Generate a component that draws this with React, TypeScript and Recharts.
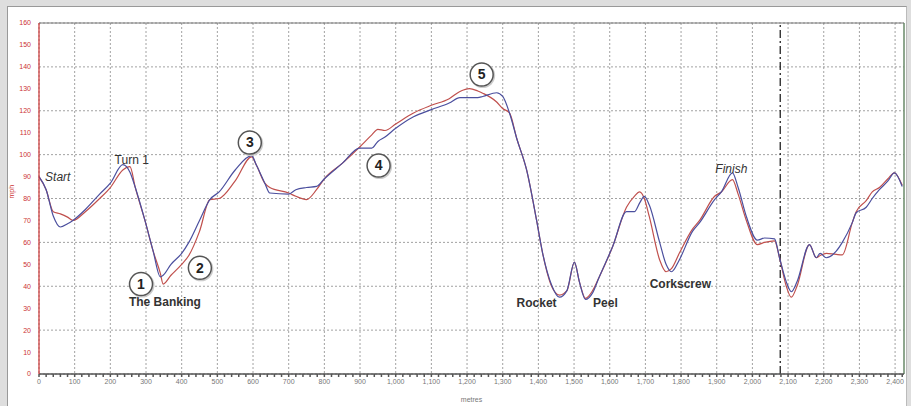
import React from 'react';
import {
  LineChart,
  Line,
  XAxis,
  YAxis,
  CartesianGrid,
  ReferenceLine,
  ReferenceDot,
} from 'recharts';

// distance along the track (metres)
const distance = [
  0, 20, 40, 60, 80, 95, 130, 170, 200, 235, 255, 270, 297, 320, 340, 348, 370, 400, 420, 450,
  479, 505, 550, 596, 610, 633, 647, 700, 720, 750, 778, 800, 850, 899, 933, 950, 970, 1000, 1050, 1100,
  1150, 1180, 1207, 1230, 1244, 1283, 1300, 1319, 1340, 1367, 1395, 1412, 1437, 1459, 1480, 1501, 1515, 1532, 1552, 1570,
  1608, 1647, 1669, 1684, 1697, 1711, 1740, 1758, 1773, 1795, 1832, 1852, 1894, 1913, 1944, 1960, 1983, 2014, 2034, 2062,
  2076, 2095, 2109, 2125, 2160, 2179, 2190, 2207, 2235, 2252, 2280, 2291, 2319, 2336, 2356, 2380, 2398, 2420,
];

// lap A (blue trace), mph
const lapA = [
  90, 84, 72, 67, 68.5, 70, 75, 82, 87, 95.4, 92, 85, 70, 56, 44.3, 45, 50, 55, 60, 70,
  79.5, 83, 93, 99.5, 95, 87, 82.5, 82, 84, 85, 85.5, 89, 96, 103, 103, 106, 108, 112, 117.3, 120.5,
  123.5, 126, 126, 126, 126.5, 128.2, 126.5, 119, 107, 93, 70, 55, 40.6, 35, 38, 51, 42, 34, 37, 44,
  58, 74, 74, 78, 81, 77, 60, 50, 46.6, 52, 65, 69, 79.5, 83, 91.7, 85, 71.8, 61, 62, 61.6,
  53, 42, 37.5, 42, 59, 53, 55, 53, 56, 60, 69, 73.5, 76, 80, 84, 88, 91.7, 85.5,
];

// lap B (red trace), mph
const lapB = [
  90, 84, 74, 73, 71.5, 70, 74, 80, 85, 93, 94.5, 85, 70, 56, 46, 41, 45, 50, 54, 65,
  79.5, 80, 88, 99, 95, 87, 85, 82.5, 81, 79.5, 84, 89, 96, 103.5, 109, 111.5, 111, 114, 119, 122.5,
  125.5, 128.8, 130.1, 129, 128, 124, 121, 119, 107, 93, 70, 55, 40, 36, 38, 51, 42, 34.5, 38, 44,
  58, 76, 81, 83, 80, 71.7, 52, 46.6, 48, 55, 66, 70, 81, 83, 88.6, 82, 70, 59, 60, 60.7,
  53, 40, 35, 40, 59, 53, 54, 55, 54.5, 54.3, 69, 74, 79, 83, 85, 89, 91.7, 86,
];

const xTicks = [0, 100, 200, 300, 400, 500, 600, 700, 800, 900, 1000, 1100, 1200, 1300, 1400, 1500, 1600, 1700, 1800, 1900, 2000, 2100, 2200, 2300, 2400];
const yTicks = [0, 10, 20, 30, 40, 50, 60, 70, 80, 90, 100, 110, 120, 130, 140, 150, 160];
// minor tick marks every 20 m along the distance axis
const xMinorTicks = Array.from({ length: 122 }, (_, i) => i * 20);

const markers = [
  { label: '1', x: 286, y: 41 },
  { label: '2', x: 451, y: 48.4 },
  { label: '3', x: 591, y: 105.5 },
  { label: '4', x: 952, y: 95 },
  { label: '5', x: 1241, y: 136.5 },
];

const names = [
  { text: 'Start', x: 17, y: 89.5, italic: true, anchor: 'start', bold: false },
  { text: 'Turn 1', x: 260, y: 97, italic: false, anchor: 'middle', bold: false },
  { text: 'The Banking', x: 353, y: 32.4, italic: false, anchor: 'middle', bold: true },
  { text: 'Rocket', x: 1395, y: 32, italic: false, anchor: 'middle', bold: true },
  { text: 'Peel', x: 1588, y: 32, italic: false, anchor: 'middle', bold: true },
  { text: 'Corkscrew', x: 1798, y: 40.6, italic: false, anchor: 'middle', bold: true },
  { text: 'Finish', x: 1941, y: 93, italic: true, anchor: 'middle', bold: false },
];

const data = distance.map((d, i) => ({ d, a: lapA[i], b: lapB[i] }));

const fmt = (v: number) => (v % 100 === 0 ? v.toLocaleString('en-US') : '');

export default function App() {
  return (
    <div style={{ position: 'absolute', left: 0, top: 0, width: 911, height: 406, background: '#dedede', fontFamily: '"Liberation Sans", Arial, sans-serif' }}>
      <div style={{ position: 'absolute', left: 7, top: 6, width: 898, height: 400, background: '#fff', borderLeft: '1px solid #999', borderTop: '1px solid #999', borderRight: '1px solid #bbb' }} />
      <div style={{ position: 'absolute', left: 0, top: 0 }}>
        <LineChart width={911} height={406} data={data} margin={{ top: 23, right: 7, left: 0, bottom: 0 }}>
          <CartesianGrid stroke="#8a8a8a" strokeDasharray="2 2" strokeWidth={0.8} verticalValues={xTicks} horizontalValues={yTicks} />
          <XAxis
            dataKey="d"
            type="number"
            domain={[0, 2425]}
            ticks={xMinorTicks}
            interval={0}
            tickFormatter={fmt}
            height={32}
            stroke="#555"
            strokeWidth={1.5}
            tick={{ fontSize: 7, fill: '#777' }}
            tickSize={3}
            label={{ value: 'metres', position: 'insideBottom', offset: 4, fontSize: 7, fill: '#777' }}
          />
          <YAxis
            type="number"
            domain={[0, 160]}
            ticks={yTicks}
            width={39}
            stroke="#cc3333"
            strokeWidth={1.2}
            tickLine={false}
            tick={{ fontSize: 7, fill: '#cc3333' }}
            label={{ value: 'mph', angle: -90, position: 'insideLeft', offset: 12, fontSize: 7, fill: '#cc3333' }}
          />
          <ReferenceLine y={160} stroke="#777" strokeWidth={1} />
          <ReferenceLine x={2425} stroke="#6a8a6a" strokeWidth={1.5} />
          <ReferenceLine x={2078} stroke="#111" strokeWidth={1.2} strokeDasharray="8 3 2 3" />
          <Line type="monotone" dataKey="b" stroke="#c0504d" strokeWidth={1.2} dot={false} isAnimationActive={false} />
          <Line type="monotone" dataKey="a" stroke="#4b4f9e" strokeWidth={1.2} dot={false} isAnimationActive={false} />
          {names.map((n) => (
            <ReferenceDot
              key={n.text}
              x={n.x}
              y={n.y}
              r={0}
              shape={(p: any) => (
                <text
                  x={p.cx}
                  y={p.cy}
                  textAnchor={n.anchor as any}
                  dominantBaseline="middle"
                  fontSize={12}
                  fontStyle={n.italic ? 'italic' : 'normal'}
                  fontWeight={n.bold ? 'bold' : 'normal'}
                  fill="#333"
                  fontFamily='"Liberation Sans", Arial, sans-serif'
                >
                  {n.text}
                </text>
              )}
            />
          ))}
          {markers.map((m) => (
            <ReferenceDot
              key={m.label}
              x={m.x}
              y={m.y}
              r={12}
              shape={(p: any) => (
                <g>
                  <circle cx={p.cx + 1} cy={p.cy + 1} r={12.5} fill="#ccc" />
                  <circle cx={p.cx} cy={p.cy} r={11.5} fill="#fff" stroke="#555" strokeWidth={1.5} />
                  <text
                    x={p.cx}
                    y={p.cy + 1}
                    textAnchor="middle"
                    dominantBaseline="middle"
                    fontSize={14}
                    fontWeight="bold"
                    fill="#222"
                    fontFamily='"Liberation Sans", Arial, sans-serif'
                  >
                    {m.label}
                  </text>
                </g>
              )}
            />
          ))}
        </LineChart>
      </div>
    </div>
  );
}
